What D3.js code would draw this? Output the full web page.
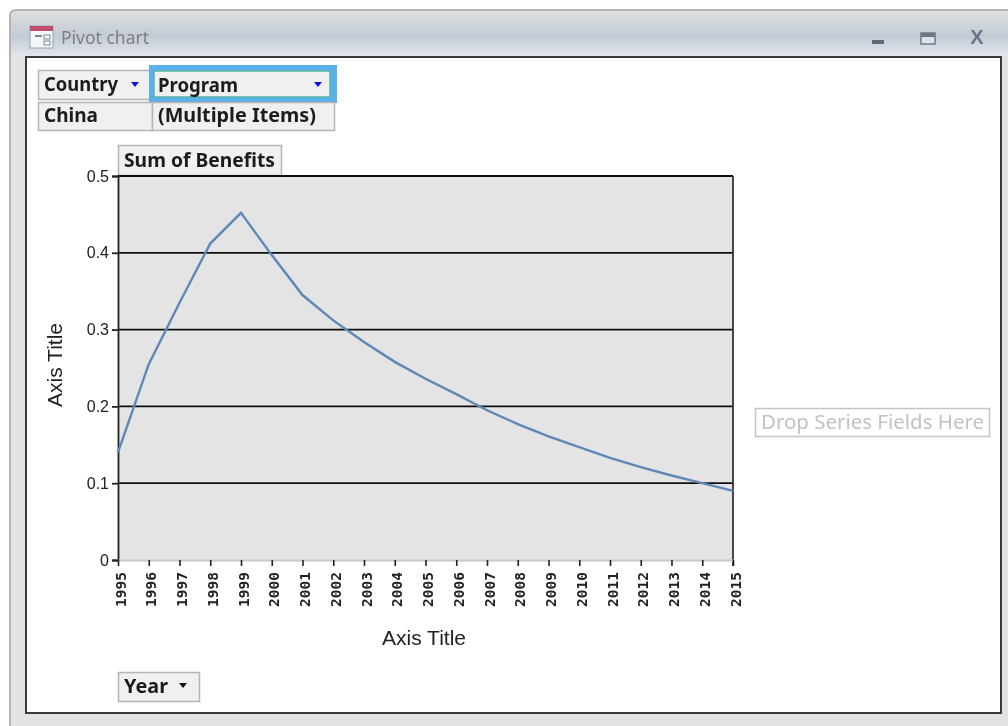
<!DOCTYPE html>
<html>
<head>
<meta charset="utf-8">
<script src="https://cdn.jsdelivr.net/npm/d3@7"></script>
<style>
html,body{margin:0;padding:0;background:#fff}
svg{display:block}
.btn{font-family:"Noto Sans",sans-serif;font-weight:700;font-size:19px;fill:#1c1c1c}
.axis text{font-family:"Liberation Sans",sans-serif;fill:#222}
.title{font-family:"Liberation Sans",sans-serif;font-size:21px;fill:#222}
</style>
</head>
<body>
<script>
const years = ["1995","1996","1997","1998","1999","2000","2001","2002","2003","2004","2005","2006","2007","2008","2009","2010","2011","2012","2013","2014","2015"];
const benefits = [0.14,0.255,0.335,0.412,0.452,0.397,0.345,0.312,0.284,0.258,0.236,0.216,0.195,0.177,0.161,0.147,0.133,0.121,0.110,0.100,0.090];
const yTicks = [0,0.1,0.2,0.3,0.4,0.5];

const width = 1008, height = 726;
const margin = {top:176,left:118};
const innerWidth = 615, innerHeight = 384;

const root = d3.select("body").append("svg")
	.attr("width",width)
	.attr("height",height);

const defs = root.append("defs");

//soft screenshot look
defs.append("filter").attr("id","soft")
	.attr("filterUnits","userSpaceOnUse")
	.attr("x",0).attr("y",0).attr("width",width).attr("height",height)
	.append("feGaussianBlur").attr("stdDeviation",0.6);

//title bar gradient
const grad = defs.append("linearGradient")
	.attr("id","bar").attr("x1",0).attr("x2",0).attr("y1",0).attr("y2",1);
grad.append("stop").attr("offset","0%").attr("stop-color","#dcdee0");
grad.append("stop").attr("offset","55%").attr("stop-color","#c3cbd4");
grad.append("stop").attr("offset","100%").attr("stop-color","#e2e6eb");

const svg = root.append("g").attr("filter","url(#soft)");

//window frame, open at the right and bottom edges of the picture
svg.append("path").attr("d","M10,726V16Q10,10 16,10H1008V726Z")
	.attr("fill","#e3e3e3");
svg.append("path").attr("d","M10,726V16Q10,10 16,10H1008")
	.attr("fill","none").attr("stroke","#b4b4b4").attr("stroke-width",2);
svg.append("path").attr("d","M11,56V17Q11,12 17,12H1008V56Z").attr("fill","url(#bar)");
svg.append("rect").attr("x",26).attr("y",57).attr("width",975).attr("height",656)
	.attr("fill","#fff").attr("stroke","#3a3a3a").attr("stroke-width",2);

//title bar icon and text
const icon = svg.append("g").attr("transform","translate(30,26)");
icon.append("rect").attr("width",23).attr("height",22).attr("fill","#f4f6f9").attr("stroke","#9aa3b0");
icon.append("rect").attr("width",23).attr("height",5).attr("fill","#c0506e");
icon.append("rect").attr("x",5).attr("y",9).attr("width",7).attr("height",2).attr("fill","#7a8798");
icon.append("rect").attr("x",14).attr("y",9).attr("width",6).attr("height",4).attr("fill","none").attr("stroke","#7a8798");
icon.append("rect").attr("x",14).attr("y",15).attr("width",6).attr("height",4).attr("fill","none").attr("stroke","#7a8798");
svg.append("text").attr("x",61).attr("y",44)
	.style("font-family","'Noto Sans',sans-serif").style("font-size","17.5px").style("fill","#7d7d82")
	.text("Pivot chart");

//window buttons
svg.append("rect").attr("x",872).attr("y",40).attr("width",12).attr("height",4).attr("fill","#5d6a7c");
svg.append("rect").attr("x",921).attr("y",33).attr("width",14).attr("height",11).attr("fill","#dfe4ea").attr("stroke","#6c7889").attr("stroke-width",1.5);
svg.append("rect").attr("x",921).attr("y",33).attr("width",14).attr("height",4).attr("fill","#6c7889");
svg.append("text").attr("x",977).attr("y",44).attr("text-anchor","middle")
	.style("font-family","'Liberation Sans',sans-serif").style("font-weight","700").style("font-size","20px").style("fill","#68768a")
	.text("X");

//field buttons
function button(x,y,w,h,label,len){
	svg.append("rect").attr("x",x+0.5).attr("y",y+0.5).attr("width",w).attr("height",h)
		.attr("fill","#f0f0f0").attr("stroke","#b5b5b5").attr("stroke-width",1.5);
	svg.append("text").attr("class","btn").attr("x",x+6).attr("y",y+h-8)
		.attr("textLength",len).attr("lengthAdjust","spacingAndGlyphs").text(label);
}
function arrow(x,y,color){
	svg.append("path").attr("d","M"+(x-4)+","+y+"h8l-4,5z").attr("fill",color);
}
button(38,70,112,29,"Country",74);
arrow(135,82,"#1010e0");
svg.append("rect").attr("x",149).attr("y",65).attr("width",188).attr("height",38)
	.attr("fill","#5ab0ea");
svg.append("rect").attr("x",154).attr("y",71).attr("width",176).attr("height",26)
	.attr("fill","#f0f0f0").attr("stroke","#58b5a0").attr("stroke-width",1.5);
svg.append("text").attr("class","btn").attr("x",158).attr("y",92)
	.attr("textLength",80).attr("lengthAdjust","spacingAndGlyphs").text("Program");
arrow(318,82,"#1010e0");
button(38,102,114,28,"China",54);
button(152,102,182,28,"(Multiple Items)",158);
button(118,145,163,30,"Sum of Benefits",151);
button(118,672,81,29,"Year",44);
arrow(183,683,"#111");

//drop zone
svg.append("rect").attr("x",755.5).attr("y",408.5).attr("width",234).attr("height",28)
	.attr("fill","#fff").attr("stroke","#c4c4c4").attr("stroke-width",1.5);
svg.append("text").attr("x",761).attr("y",429)
	.attr("textLength",223).attr("lengthAdjust","spacingAndGlyphs")
	.style("font-family","'Noto Sans',sans-serif").style("font-size","19px").style("fill","#c2c2c2")
	.text("Drop Series Fields Here");

//scales
const xScale = d3.scalePoint().domain(years).range([0,innerWidth]);
const yScale = d3.scaleLinear().domain([0,0.5]).range([innerHeight,0]);

const g = svg.append("g").attr("transform","translate("+margin.left+","+margin.top+")");

g.append("rect").attr("width",innerWidth).attr("height",innerHeight).attr("fill","#e4e4e4");

//gridlines
g.selectAll(".grid")
	.data(yTicks.filter(d=>d>0))
	.enter().append("line")
		.attr("class","grid")
		.attr("x1",0).attr("x2",innerWidth)
		.attr("y1",d=>yScale(d)).attr("y2",d=>yScale(d))
		.attr("stroke","#111").attr("stroke-width",1.8);

//right border of plot
g.append("line").attr("x1",innerWidth).attr("x2",innerWidth).attr("y1",0).attr("y2",innerHeight+6)
	.attr("stroke","#333").attr("stroke-width",1.8);

//y-axis
const yAxis = g.append("g").attr("class","axis")
	.call(d3.axisLeft(yScale).tickValues(yTicks).tickSize(6).tickPadding(3).tickFormat(d=>d===0?"0":d3.format(".1f")(d)));
yAxis.selectAll("text").style("font-size","16px").style("fill","#222");
yAxis.selectAll("line,path").attr("stroke","#222").attr("stroke-width",1.8);

//x-axis
const xAxis = g.append("g").attr("class","axis")
	.attr("transform","translate(0,"+innerHeight+")")
	.call(d3.axisBottom(xScale).tickSize(6).tickSizeOuter(0));
xAxis.select("path").attr("stroke","#c8c8c8").attr("stroke-width",2);
xAxis.selectAll("line").attr("stroke","#222").attr("stroke-width",1.6);
xAxis.selectAll("text")
	.attr("transform","rotate(-90)")
	.attr("text-anchor","end")
	.attr("x",-12).attr("y",2).attr("dy","0.35em")
	.style("font-family","'DejaVu Sans Mono',monospace")
	.style("font-size","14.5px").style("font-weight","700");

//line
g.append("path").datum(benefits)
	.attr("fill","none").attr("stroke","#5f88b8").attr("stroke-width",2.4)
	.attr("d",d3.line().x((d,i)=>xScale(years[i])).y(d=>yScale(d)));

//axis titles
svg.append("text").attr("class","title").attr("x",424).attr("y",645).attr("text-anchor","middle").text("Axis Title");
svg.append("text").attr("class","title").attr("text-anchor","middle")
	.attr("transform","translate(62,365) rotate(-90)").text("Axis Title");
</script>
</body>
</html>
